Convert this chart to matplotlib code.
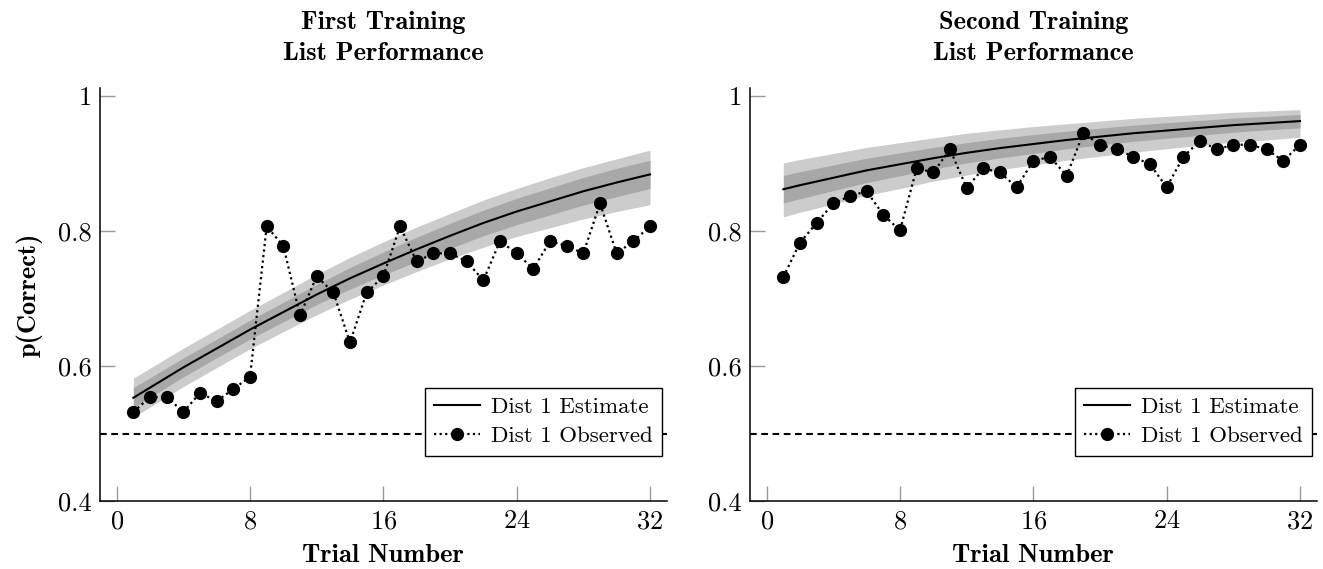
import matplotlib
matplotlib.use("Agg")
import numpy as np
import matplotlib.pyplot as plt
from matplotlib.ticker import FuncFormatter

plt.rcParams["font.family"] = "cmr10"
plt.rcParams["axes.formatter.use_mathtext"] = True

# trial numbers
trials = list(range(1, 33))
knots = [1, 2, 4, 6, 8, 10, 12, 14, 16, 18, 20, 22, 24, 26, 28, 30, 32]

# first training list
obs1 = [0.532, 0.554, 0.554, 0.532, 0.560, 0.548, 0.566, 0.584,
        0.807, 0.778, 0.675, 0.733, 0.709, 0.635, 0.709, 0.733,
        0.807, 0.755, 0.767, 0.767, 0.755, 0.727, 0.785, 0.767,
        0.744, 0.785, 0.778, 0.767, 0.841, 0.767, 0.785, 0.807]
est1 = [0.553, 0.568, 0.598, 0.626, 0.654, 0.680, 0.706, 0.730, 0.752,
        0.773, 0.793, 0.812, 0.829, 0.844, 0.859, 0.872, 0.884]
inner_hw1 = [0.015, 0.0145, 0.014, 0.0138, 0.014, 0.0145, 0.015, 0.016, 0.017,
             0.018, 0.0185, 0.019, 0.0195, 0.020, 0.0205, 0.021, 0.021]
outer_lo_hw1 = [0.029, 0.0288, 0.0285, 0.0283, 0.0285, 0.029, 0.030, 0.031, 0.032,
                0.033, 0.034, 0.036, 0.037, 0.039, 0.041, 0.043, 0.045]
outer_hi_hw1 = [0.029, 0.0288, 0.0285, 0.0283, 0.0285, 0.029, 0.030, 0.031, 0.032,
                0.033, 0.033, 0.034, 0.034, 0.035, 0.035, 0.035, 0.036]

# second training list
obs2 = [0.732, 0.783, 0.812, 0.841, 0.852, 0.859, 0.824, 0.801,
        0.893, 0.887, 0.921, 0.864, 0.893, 0.887, 0.865, 0.904,
        0.910, 0.882, 0.945, 0.928, 0.921, 0.910, 0.899, 0.865,
        0.910, 0.934, 0.921, 0.928, 0.928, 0.921, 0.904, 0.928]
est2 = [0.862, 0.868, 0.879, 0.890, 0.899, 0.908, 0.916, 0.923, 0.929,
        0.935, 0.940, 0.945, 0.949, 0.953, 0.957, 0.960, 0.963]
inner_hw2 = [0.0205, 0.020, 0.019, 0.018, 0.017, 0.016, 0.015, 0.0145, 0.014,
             0.013, 0.0125, 0.012, 0.0115, 0.011, 0.0105, 0.010, 0.010]
outer_lo_hw2 = [0.041, 0.040, 0.039, 0.037, 0.036, 0.034, 0.033, 0.032, 0.031,
                0.030, 0.029, 0.028, 0.027, 0.026, 0.025, 0.025, 0.024]
outer_hi_hw2 = [0.039, 0.038, 0.036, 0.034, 0.032, 0.030, 0.029, 0.027, 0.026,
                0.024, 0.023, 0.022, 0.021, 0.020, 0.019, 0.018, 0.017]

chance = 0.5
titles = ["First Training\nList Performance", "Second Training\nList Performance"]
xticks = [0, 8, 16, 24, 32]
yticks = [0.4, 0.6, 0.8, 1.0]

panels = [
    (obs1, est1, inner_hw1, outer_lo_hw1, outer_hi_hw1),
    (obs2, est2, inner_hw2, outer_lo_hw2, outer_hi_hw2),
]

fig = plt.figure(figsize=(13.23, 5.69), dpi=100)
lefts = [0.0756, 0.5669]
fs = 19
leg_fs = 16.5

for i, (obs, est, ihw, olo, ohi) in enumerate(panels):
    ax = fig.add_axes([lefts[i], 0.1195, 0.4283, 0.7258])
    est_a = np.array(est)
    ax.fill_between(knots, est_a - np.array(olo), est_a + np.array(ohi),
                    color="#cccccc", lw=0, zorder=1)
    ax.fill_between(knots, est_a - np.array(ihw), est_a + np.array(ihw),
                    color="#a8a8a8", lw=0, zorder=2)
    ax.plot(knots, est, color="black", lw=1.5, zorder=3, label="Dist 1 Estimate")
    ax.plot(trials, obs, color="black", lw=1.6, ls=(0, (1, 1.5)),
            marker="o", ms=8.5, zorder=4, label="Dist 1 Observed")
    ax.axhline(chance, color="black", lw=1.5, ls=(0, (3.2, 2.2)), zorder=2.5)

    ax.set_xlim(-1, 33)
    ax.set_ylim(0.4, 1.012)
    ax.set_xticks(xticks)
    ax.set_yticks(yticks)
    ax.yaxis.set_major_formatter(FuncFormatter(lambda v, p: f"{v:g}"))
    ax.tick_params(direction="in", length=11, width=1, color="#999999",
                   labelsize=fs)
    ax.tick_params(axis="x", pad=6)
    ax.tick_params(axis="y", pad=6)
    for side in ["top", "right"]:
        ax.spines[side].set_visible(False)
    for side in ["left", "bottom"]:
        ax.spines[side].set_linewidth(1.1)

    ax.set_title(titles[i], fontfamily="cmb10", fontsize=fs, pad=20,
                 linespacing=1.45)
    ax.set_xlabel("Trial Number", fontfamily="cmb10", fontsize=fs, labelpad=8)
    if i == 0:
        ax.set_ylabel("p(Correct)", fontfamily="cmb10", fontsize=fs, labelpad=11)

    leg = ax.legend(loc="lower right", bbox_to_anchor=(0.991, 0.110),
                    borderaxespad=0, fontsize=leg_fs, fancybox=False,
                    edgecolor="black", framealpha=1, handlelength=2.0,
                    handletextpad=0.45, borderpad=0.4, labelspacing=0.42)
    leg.get_frame().set_linewidth(1.0)
    leg.set_zorder(10)

fig.savefig("out.png", dpi=100)
